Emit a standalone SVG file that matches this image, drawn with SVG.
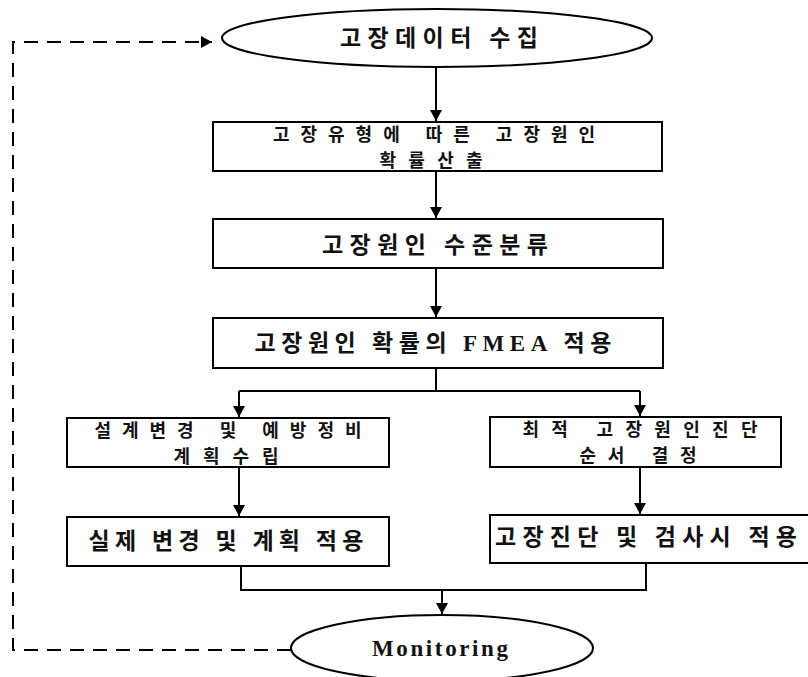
<svg xmlns="http://www.w3.org/2000/svg" width="808" height="677" viewBox="0 0 808 677">
<defs>
<marker id="ah" markerUnits="userSpaceOnUse" markerWidth="12" markerHeight="12" refX="11" refY="6" orient="auto">
<path d="M0,0 L11,6 L0,12 Z" fill="#000"/>
</marker>
<style>
.box{fill:#fff;stroke:#000;stroke-width:2}
.ln{fill:none;stroke:#000;stroke-width:2}
.dash{fill:none;stroke:#000;stroke-width:2;stroke-dasharray:14 9}
.t{font-family:"Noto Sans CJK KR","Noto Sans",sans-serif;font-size:23px;font-weight:700;fill:#111;text-anchor:middle}
.s{font-size:18px}
.e{font-family:"Liberation Serif","Times New Roman",serif;font-weight:700}
.m{font-size:23px}
</style>
</defs>
<rect width="808" height="677" fill="#fff"/>
<g id="connectors">
<path class="ln" d="M436,67 V121" marker-end="url(#ah)"/>
<path class="ln" d="M436,171 V218" marker-end="url(#ah)"/>
<path class="ln" d="M436,268 V317" marker-end="url(#ah)"/>
<path class="ln" d="M436,368 V391 M239,391 H640"/>
<path class="ln" d="M239,391 V417" marker-end="url(#ah)"/>
<path class="ln" d="M640,391 V416" marker-end="url(#ah)"/>
<path class="ln" d="M239,467 V516" marker-end="url(#ah)"/>
<path class="ln" d="M640,467 V514" marker-end="url(#ah)"/>
<path class="ln" d="M241,566 V590 H646 V563"/>
<path class="ln" d="M442,590 V614" marker-end="url(#ah)"/>
<path class="dash" d="M291,650 H13 V42 H212" marker-end="url(#ah)"/>
</g>
<g id="n1">
<ellipse class="box" cx="437" cy="38" rx="215" ry="29"/>
<text class="t" x="439" y="46" textLength="198" lengthAdjust="spacing">고장데이터 수집</text>
</g>
<g id="n2">
<rect class="box" x="213" y="122" width="449" height="49"/>
<text class="t s" x="434" y="141" textLength="322" lengthAdjust="spacing">고장유형에 따른 고장원인</text>
<text class="t s" x="431" y="167" textLength="103" lengthAdjust="spacing">확률산출</text>
</g>
<g id="n3">
<rect class="box" x="213" y="219" width="450" height="49"/>
<text class="t" x="435" y="253" textLength="226" lengthAdjust="spacing">고장원인 수준분류</text>
</g>
<g id="n4">
<rect class="box" x="213" y="318" width="450" height="50"/>
<text class="t" x="433" y="351" textLength="357" lengthAdjust="spacing">고장원인 확률의 <tspan class="e">FMEA</tspan> 적용</text>
</g>
<g id="n5">
<rect class="box" x="67" y="418" width="322" height="49"/>
<text class="t s" x="228" y="437" textLength="267" lengthAdjust="spacing">설계변경 및 예방정비</text>
<text class="t s" x="226" y="463" textLength="105" lengthAdjust="spacing">계획수립</text>
</g>
<g id="n6">
<rect class="box" x="490" y="417" width="291" height="50"/>
<text class="t s" x="640" y="436" textLength="235" lengthAdjust="spacing">최적 고장원인진단</text>
<text class="t s" x="638" y="462" textLength="117" lengthAdjust="spacing">순서 결정</text>
</g>
<g id="n7">
<rect class="box" x="67" y="517" width="322" height="49"/>
<text class="t" x="226" y="549" textLength="275" lengthAdjust="spacing">실제 변경 및 계획 적용</text>
</g>
<g id="n8">
<rect class="box" x="490" y="515" width="330" height="48"/>
<text class="t" x="646" y="545" textLength="302" lengthAdjust="spacing">고장진단 및 검사시 적용</text>
</g>
<g id="n9">
<ellipse class="box" cx="442" cy="648" rx="151" ry="33"/>
<text class="t e m" x="440" y="656" textLength="136" lengthAdjust="spacing">Monitoring</text>
</g>
</svg>
